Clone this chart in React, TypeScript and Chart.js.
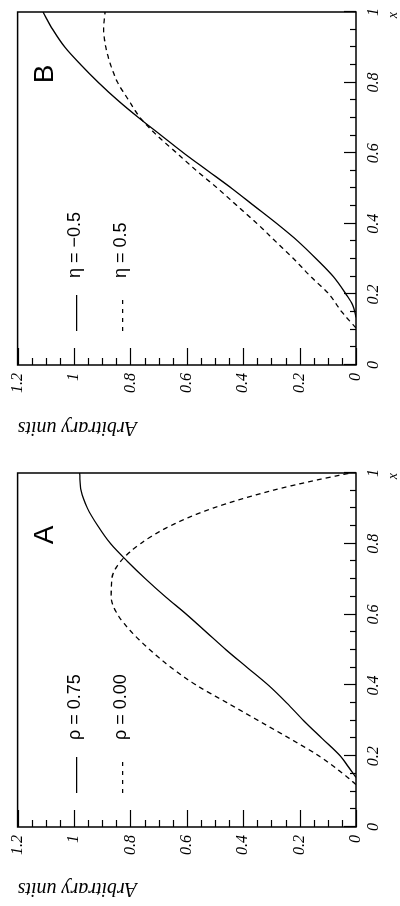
import React, { useEffect, useRef } from 'react';
import { Chart, registerables } from 'chart.js';

Chart.register(...registerables);

// ---------- data ----------
const xTickLabels = ['0', '0.2', '0.4', '0.6', '0.8', '1'];
const yTickLabels = ['0', '0.2', '0.4', '0.6', '0.8', '1', '1.2'];

// Panel A
const aSolidX = [0.14, 0.17, 0.2, 0.25, 0.3, 0.35, 0.4, 0.45, 0.5, 0.55, 0.6, 0.65, 0.7, 0.75, 0.8, 0.85, 0.9, 0.95, 1.0];
const aSolidY = [0, 0.027, 0.055, 0.12, 0.185, 0.245, 0.31, 0.385, 0.46, 0.53, 0.6, 0.675, 0.745, 0.81, 0.87, 0.915, 0.952, 0.975, 0.98];
const aDashX = [0.12, 0.15, 0.2, 0.25, 0.3, 0.35, 0.4, 0.45, 0.5, 0.55, 0.6, 0.65, 0.7, 0.75, 0.8, 0.85, 0.9, 0.95, 0.98, 1.0];
const aDashY = [0, 0.045, 0.13, 0.235, 0.345, 0.455, 0.565, 0.655, 0.73, 0.795, 0.845, 0.868, 0.866, 0.835, 0.765, 0.66, 0.51, 0.3, 0.14, 0.02];

// Panel B
const bSolidX = [0.135, 0.17, 0.2, 0.25, 0.3, 0.35, 0.4, 0.45, 0.5, 0.55, 0.6, 0.65, 0.7, 0.75, 0.8, 0.85, 0.9, 0.95, 1.0];
const bSolidY = [0, 0.012, 0.035, 0.08, 0.14, 0.205, 0.28, 0.36, 0.44, 0.525, 0.61, 0.69, 0.77, 0.845, 0.913, 0.975, 1.032, 1.075, 1.11];
const bDashX = [0.105, 0.15, 0.2, 0.25, 0.3, 0.35, 0.4, 0.45, 0.5, 0.55, 0.6, 0.65, 0.7, 0.75, 0.8, 0.85, 0.9, 0.95, 1.0];
const bDashY = [0, 0.05, 0.095, 0.16, 0.22, 0.285, 0.35, 0.42, 0.49, 0.565, 0.635, 0.705, 0.765, 0.806, 0.845, 0.87, 0.887, 0.895, 0.89];

const panelALetter = 'A';
const panelALegend = ['ρ = 0.75', 'ρ = 0.00'];
const panelBLetter = 'B';
const panelBLegend = ['η = −0.5', 'η = 0.5'];

// ---------- helpers ----------
const isMajor = (v: number) => Math.abs(v / 0.2 - Math.round(v / 0.2)) < 1e-6;
const toPts = (xs: number[], ys: number[]) => xs.map((x, i) => ({ x, y: ys[i] }));

const framePlugin = {
  id: 'frame',
  afterDraw(chart: any, _args: any, opts: any) {
    const { ctx, chartArea: a, scales } = chart;
    const xs = scales.x;
    const ys = scales.y;
    ctx.save();
    ctx.strokeStyle = '#000';
    ctx.lineWidth = 1.5;
    ctx.strokeRect(a.left, a.top, a.right - a.left, a.bottom - a.top);
    ctx.lineWidth = 1.2;
    xs.ticks.forEach((t: any) => {
      const px = Math.round(xs.getPixelForValue(t.value)) + 0.5;
      const len = isMajor(t.value) ? 12 : 6;
      ctx.beginPath();
      ctx.moveTo(px, a.bottom);
      ctx.lineTo(px, a.bottom - len);
      ctx.stroke();
    });
    ys.ticks.forEach((t: any) => {
      const py = Math.round(ys.getPixelForValue(t.value)) + 0.5;
      const len = isMajor(t.value) ? 17 : 7;
      ctx.beginPath();
      ctx.moveTo(a.left, py);
      ctx.lineTo(a.left + len, py);
      ctx.stroke();
    });

    // legend
    const rows = [
      { text: opts.legend[0], dash: [] as number[], y: a.top + 57 },
      { text: opts.legend[1], dash: [4, 5], y: a.top + 103 },
    ];
    ctx.fillStyle = '#000';
    ctx.font = '18px "Liberation Sans", Arial, sans-serif';
    ctx.textBaseline = 'middle';
    ctx.textAlign = 'left';
    rows.forEach((r) => {
      ctx.setLineDash(r.dash);
      ctx.lineWidth = 1.3;
      ctx.beginPath();
      ctx.moveTo(a.left + 34, r.y + 2);
      ctx.lineTo(a.left + 70, r.y + 2);
      ctx.stroke();
      ctx.setLineDash([]);
      ctx.fillText(r.text, a.left + 87, r.y);
    });

    // panel letter
    ctx.font = '28px "Liberation Sans", Arial, sans-serif';
    ctx.textAlign = 'center';
    ctx.fillText(opts.letter, a.right - 62, a.top + 28);
    ctx.restore();
  },
};

type PanelCfg = {
  solid: { x: number; y: number }[];
  dash: { x: number; y: number }[];
  legend: string[];
  letter: string;
  leftW: number;
  rightPad: number;
  titlePad: number;
};

function Panel({ cfg }: { cfg: PanelCfg }) {
  const ref = useRef<HTMLCanvasElement>(null);
  useEffect(() => {
    const tickFont = { family: '"Liberation Serif", "Times New Roman", serif', style: 'italic' as const, size: 16 };
    const chart = new Chart(ref.current as HTMLCanvasElement, {
      type: 'line',
      data: {
        datasets: [
          {
            data: cfg.solid,
            borderColor: '#000',
            borderWidth: 1.3,
            pointRadius: 0,
            fill: false,
            cubicInterpolationMode: 'monotone',
          },
          {
            data: cfg.dash,
            borderColor: '#000',
            borderWidth: 1.3,
            borderDash: [5, 4],
            pointRadius: 0,
            fill: false,
            cubicInterpolationMode: 'monotone',
          },
        ],
      },
      options: {
        animation: false,
        responsive: false,
        events: [],
        layout: { padding: { top: 15, right: cfg.rightPad, left: 0, bottom: 0 } },
        plugins: {
          legend: { display: false },
          tooltip: { enabled: false },
          // @ts-ignore
          frame: { legend: cfg.legend, letter: cfg.letter },
        },
        scales: {
          x: {
            type: 'linear',
            min: 0,
            max: 1,
            position: 'bottom',
            grid: { display: false, drawTicks: false },
            border: { display: false },
            ticks: {
              stepSize: 0.05,
              autoSkip: false,
              maxRotation: 0,
              padding: 8,
              color: '#000',
              font: tickFont,
              callback: (v: any) => (isMajor(Number(v)) ? xTickLabels[Math.round(Number(v) / 0.2)] : ''),
            },
            title: {
              display: true,
              text: 'x',
              align: 'end',
              color: '#000',
              font: { family: '"Liberation Serif", serif', style: 'italic', size: 14, lineHeight: 1 },
              padding: { top: 0, bottom: 0 },
            },
            afterFit: (s: any) => {
              s.height = 44;
            },
          },
          y: {
            type: 'linear',
            min: 0,
            max: 1.2,
            position: 'left',
            grid: { display: false, drawTicks: false },
            border: { display: false },
            ticks: {
              stepSize: 0.05,
              autoSkip: false,
              padding: 8,
              color: '#000',
              font: tickFont,
              callback: (v: any) => (isMajor(Number(v)) ? yTickLabels[Math.round(Number(v) / 0.2)] : ''),
            },
            title: {
              display: true,
              text: 'Arbitrary units',
              align: 'end',
              color: '#000',
              font: { family: '"Liberation Serif", "Times New Roman", serif', style: 'italic', size: 20 },
              padding: { top: cfg.titlePad, bottom: 0 },
            },
            afterFit: (s: any) => {
              s.width = cfg.leftW;
            },
          },
        },
      },
      plugins: [framePlugin],
    } as any);
    return () => chart.destroy();
  }, [cfg]);
  return <canvas ref={ref} width={453} height={400} style={{ display: 'block', width: 453, height: 400 }} />;
}

const panelA: PanelCfg = {
  solid: toPts(aSolidX, aSolidY),
  dash: toPts(aDashX, aDashY),
  legend: panelALegend,
  letter: panelALetter,
  leftW: 79,
  rightPad: 20,
  titlePad: 6,
};

const panelB: PanelCfg = {
  solid: toPts(bSolidX, bSolidY),
  dash: toPts(bDashX, bDashY),
  legend: panelBLegend,
  letter: panelBLetter,
  leftW: 88,
  rightPad: 12,
  titlePad: 14,
};

export default function App() {
  return (
    <div
      style={{
        position: 'absolute',
        left: 0,
        top: 0,
        width: 906,
        height: 400,
        display: 'flex',
        background: '#fff',
        transformOrigin: '0 0',
        transform: 'translate(0px, 906px) rotate(-90deg)',
      }}
    >
      <Panel cfg={panelA} />
      <Panel cfg={panelB} />
    </div>
  );
}
